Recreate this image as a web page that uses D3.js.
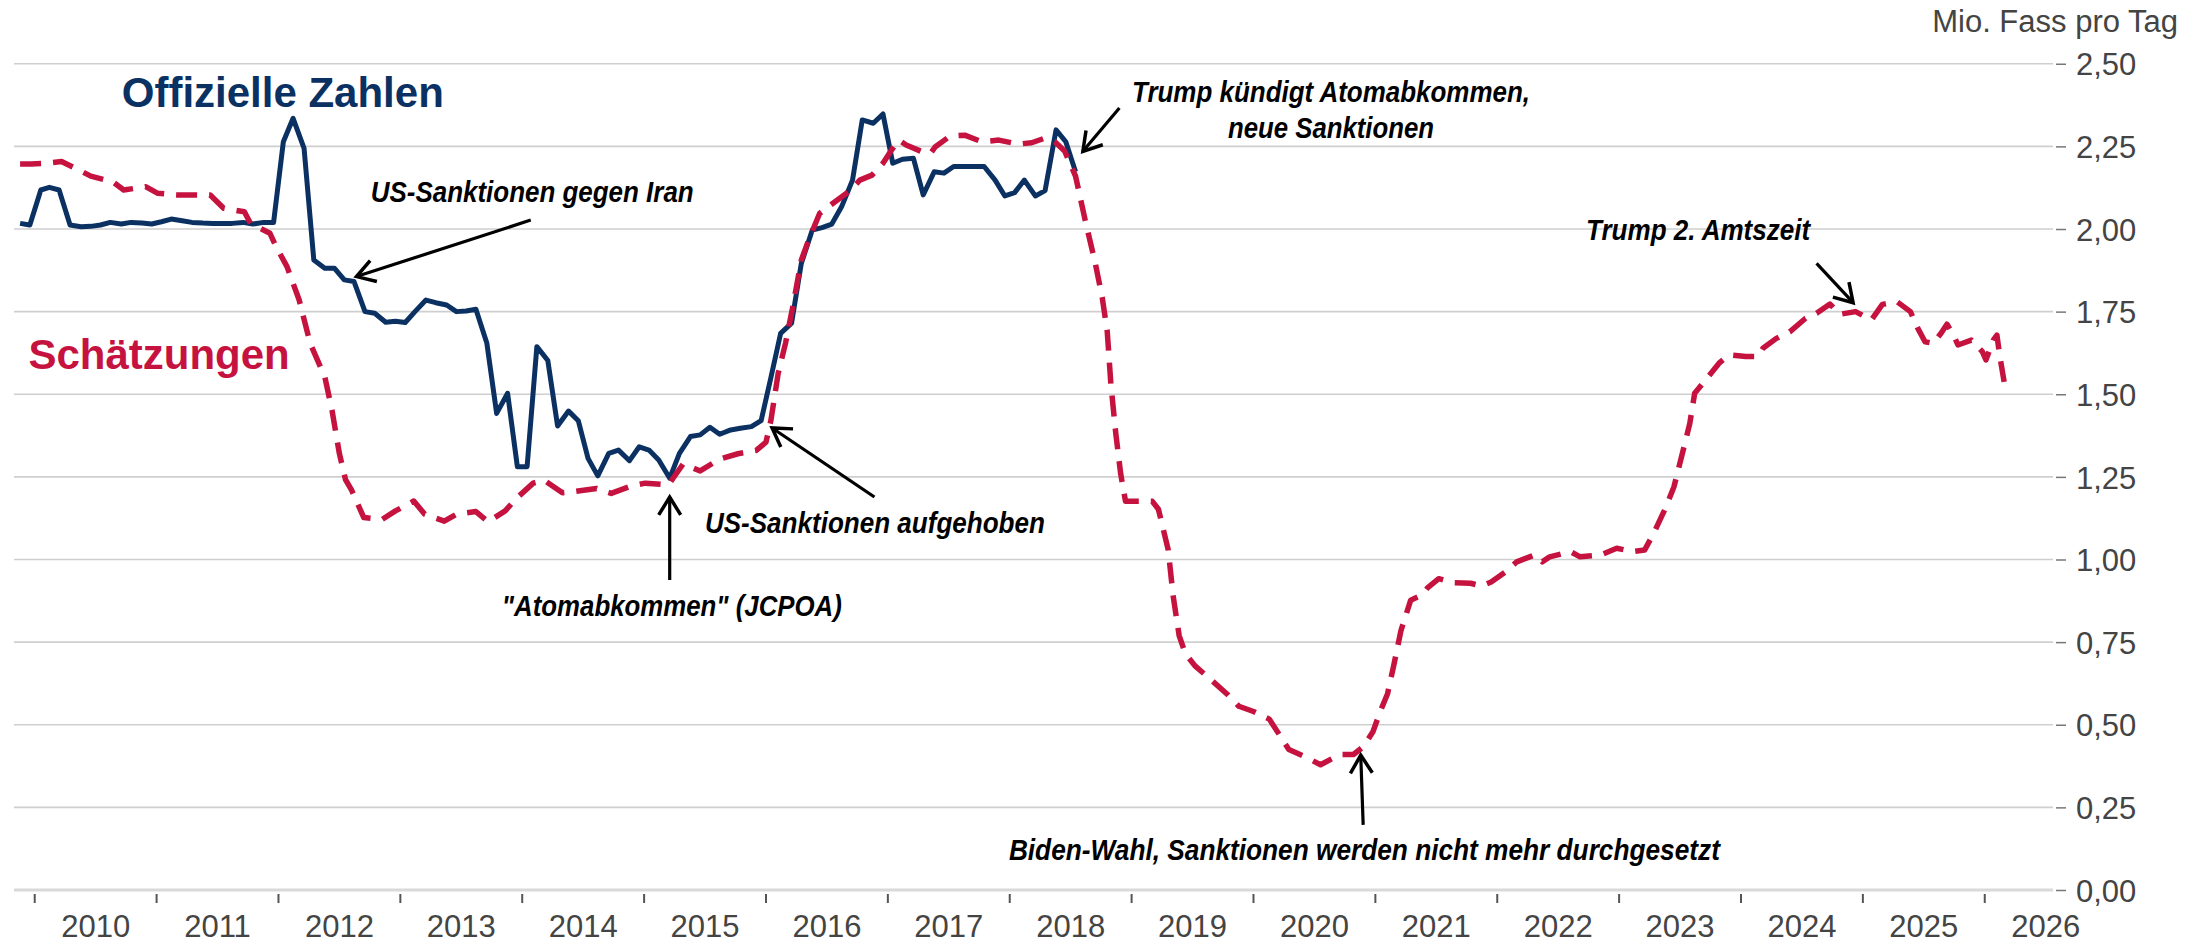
<!DOCTYPE html>
<html>
<head>
<meta charset="utf-8">
<script src="https://cdn.jsdelivr.net/npm/d3@7"></script>
<style>
  html, body { margin: 0; padding: 0; background: #ffffff; }
  svg { display: block; }
</style>
</head>
<body>
<svg id="chart" width="2209" height="943"></svg>
<script>
// ---------------- DATA ----------------
// Official figures (decimal year, Mio. barrels per day)
const officialYears = [2009.88, 2009.96, 2010.05, 2010.12, 2010.20, 2010.29, 2010.38, 2010.46, 2010.54, 2010.62,
  2010.71, 2010.79, 2010.88, 2010.96, 2011.04, 2011.12, 2011.21, 2011.29, 2011.38, 2011.46,
  2011.54, 2011.62, 2011.71, 2011.79, 2011.88, 2011.96, 2012.04, 2012.12, 2012.21, 2012.29,
  2012.38, 2012.46, 2012.54, 2012.62, 2012.71, 2012.79, 2012.88, 2012.96, 2013.04, 2013.12,
  2013.21, 2013.29, 2013.38, 2013.46, 2013.54, 2013.62, 2013.71, 2013.79, 2013.88, 2013.96,
  2014.04, 2014.12, 2014.21, 2014.29, 2014.38, 2014.46, 2014.54, 2014.62, 2014.71, 2014.79,
  2014.88, 2014.96, 2015.04, 2015.12, 2015.21, 2015.29, 2015.38, 2015.46, 2015.54, 2015.62,
  2015.71, 2015.79, 2015.88, 2015.96, 2016.04, 2016.12, 2016.21, 2016.29, 2016.38, 2016.46,
  2016.54, 2016.62, 2016.71, 2016.79, 2016.88, 2016.96, 2017.04, 2017.12, 2017.21, 2017.29,
  2017.38, 2017.46, 2017.54, 2017.62, 2017.71, 2017.79, 2017.88, 2017.96, 2018.04, 2018.12,
  2018.21, 2018.29, 2018.38, 2018.46, 2018.54];
const officialValues = [2.017, 2.012, 2.118, 2.126, 2.118, 2.012, 2.007, 2.008, 2.012, 2.020,
  2.015, 2.020, 2.018, 2.015, 2.022, 2.030, 2.025, 2.020, 2.018, 2.017,
  2.017, 2.017, 2.020, 2.015, 2.020, 2.020, 2.264, 2.335, 2.244, 1.906,
  1.881, 1.881, 1.846, 1.841, 1.750, 1.745, 1.718, 1.721, 1.717, 1.750,
  1.785, 1.777, 1.770, 1.750, 1.752, 1.757, 1.654, 1.442, 1.503, 1.281,
  1.281, 1.644, 1.602, 1.404, 1.449, 1.420, 1.306, 1.253, 1.321, 1.331,
  1.299, 1.341, 1.331, 1.301, 1.246, 1.321, 1.372, 1.377, 1.400, 1.379,
  1.392, 1.397, 1.402, 1.420, 1.550, 1.684, 1.715, 1.896, 1.997, 2.004,
  2.015, 2.067, 2.148, 2.330, 2.320, 2.348, 2.199, 2.211, 2.214, 2.103,
  2.173, 2.169, 2.189, 2.189, 2.189, 2.189, 2.148, 2.100, 2.110, 2.148,
  2.100, 2.116, 2.300, 2.264, 2.173];

// Estimates (decimal year, Mio. barrels per day)
const estimateYears = [2009.88, 2009.97, 2010.10, 2010.22, 2010.36, 2010.46, 2010.64, 2010.73, 2010.91, 2011.01,
  2011.17, 2011.44, 2011.55, 2011.72, 2011.77, 2011.93, 2011.98, 2012.07, 2012.17, 2012.26,
  2012.38, 2012.44, 2012.50, 2012.55, 2012.60, 2012.70, 2012.85, 2012.96, 2013.11, 2013.20,
  2013.36, 2013.46, 2013.62, 2013.72, 2013.86, 2013.95, 2014.09, 2014.18, 2014.33, 2014.42,
  2014.61, 2014.73, 2014.90, 2015.01, 2015.20, 2015.32, 2015.46, 2015.62, 2015.77, 2015.92,
  2016.00, 2016.04, 2016.10, 2016.16, 2016.22, 2016.29, 2016.35, 2016.44, 2016.55, 2016.68,
  2016.77, 2016.87, 2016.96, 2017.03, 2017.09, 2017.15, 2017.28, 2017.35, 2017.39, 2017.51,
  2017.63, 2017.77, 2017.91, 2018.07, 2018.18, 2018.28, 2018.37, 2018.45, 2018.54, 2018.62,
  2018.70, 2018.76, 2018.80, 2018.83, 2018.87, 2018.91, 2018.95, 2019.17, 2019.22, 2019.30,
  2019.34, 2019.39, 2019.44, 2019.52, 2019.64, 2019.78, 2019.88, 2020.00, 2020.13, 2020.21,
  2020.29, 2020.43, 2020.55, 2020.71, 2020.82, 2020.90, 2020.98, 2021.04, 2021.10, 2021.15,
  2021.21, 2021.25, 2021.29, 2021.38, 2021.43, 2021.52, 2021.63, 2021.78, 2021.87, 2021.95,
  2022.07, 2022.16, 2022.31, 2022.37, 2022.43, 2022.60, 2022.68, 2022.85, 2022.98, 2023.11,
  2023.21, 2023.29, 2023.38, 2023.45, 2023.54, 2023.58, 2023.62, 2023.71, 2023.82, 2023.90,
  2024.04, 2024.14, 2024.18, 2024.29, 2024.40, 2024.53, 2024.62, 2024.73, 2024.81, 2024.94,
  2025.07, 2025.16, 2025.28, 2025.39, 2025.45, 2025.51, 2025.58, 2025.64, 2025.69, 2025.75,
  2025.78, 2025.89, 2025.98, 2026.01, 2026.07, 2026.10, 2026.12, 2026.17];
const estimateValues = [2.197, 2.197, 2.199, 2.204, 2.179, 2.160, 2.143, 2.118, 2.128, 2.108,
  2.103, 2.103, 2.063, 2.052, 2.017, 1.987, 1.947, 1.886, 1.785, 1.654,
  1.553, 1.450, 1.320, 1.242, 1.210, 1.127, 1.121, 1.147, 1.177, 1.137,
  1.116, 1.137, 1.145, 1.114, 1.147, 1.184, 1.231, 1.240, 1.202, 1.205,
  1.215, 1.200, 1.223, 1.231, 1.226, 1.289, 1.268, 1.304, 1.320, 1.330,
  1.355, 1.420, 1.563, 1.654, 1.765, 1.906, 1.967, 2.047, 2.078, 2.113,
  2.148, 2.163, 2.199, 2.239, 2.269, 2.254, 2.234, 2.229, 2.249, 2.281,
  2.284, 2.264, 2.269, 2.257, 2.261, 2.274, 2.264, 2.236, 2.160, 2.025,
  1.900, 1.790, 1.690, 1.530, 1.382, 1.260, 1.176, 1.176, 1.152, 1.030,
  0.892, 0.770, 0.716, 0.678, 0.640, 0.594, 0.556, 0.540, 0.517, 0.471,
  0.425, 0.402, 0.379, 0.410, 0.410, 0.433, 0.479, 0.540, 0.594, 0.678,
  0.785, 0.831, 0.877, 0.892, 0.915, 0.942, 0.930, 0.928, 0.920, 0.932,
  0.963, 0.993, 1.014, 0.993, 1.008, 1.024, 1.008, 1.014, 1.034, 1.024,
  1.029, 1.084, 1.155, 1.220, 1.352, 1.412, 1.503, 1.543, 1.594, 1.619,
  1.614, 1.614, 1.639, 1.669, 1.689, 1.730, 1.745, 1.773, 1.742, 1.750,
  1.725, 1.772, 1.780, 1.750, 1.700, 1.659, 1.654, 1.684, 1.712, 1.674,
  1.649, 1.664, 1.629, 1.604, 1.664, 1.679, 1.624, 1.513];

// Axis tick values / labels
const yearTicks = [2010, 2011, 2012, 2013, 2014, 2015, 2016, 2017, 2018, 2019, 2020, 2021, 2022, 2023, 2024, 2025, 2026];
const yearLabels = ["2010", "2011", "2012", "2013", "2014", "2015", "2016", "2017", "2018", "2019", "2020", "2021", "2022", "2023", "2024", "2025", "2026"];
const valueTicks = [0, 0.25, 0.5, 0.75, 1.0, 1.25, 1.5, 1.75, 2.0, 2.25, 2.5];
const unitLabel = "Mio. Fass pro Tag";
const seriesNames = ["Offizielle Zahlen", "Schätzungen"];

// Annotations: text lines and arrows (in data coordinates: decimal year / value)
const annotationTexts = [
  { lines: ["US-Sanktionen gegen Iran"], x: 2012.757, y: 2.081, anchor: "start", widths: [323] },
  { lines: ["Trump kündigt Atomabkommen,", "neue Sanktionen"], x: 2020.636, y: 2.384, anchor: "middle", widths: [398, 206] },
  { lines: ["US-Sanktionen aufgehoben"], x: 2015.499, y: 1.080, anchor: "start", widths: [340] },
  { lines: ["\"Atomabkommen\" (JCPOA)"], x: 2013.833, y: 0.829, anchor: "start", widths: [340] },
  { lines: ["Trump 2. Amtszeit"], x: 2022.729, y: 1.967, anchor: "start", widths: [224] },
  { lines: ["Biden-Wahl, Sanktionen werden nicht mehr durchgesetzt"], x: 2017.993, y: 0.091, anchor: "start", widths: [711] }
];
const annotationArrows = [
  { from: [2014.07, 2.027], to: [2012.64, 1.856] },
  { from: [2018.90, 2.366], to: [2018.60, 2.235] },
  { from: [2016.89, 1.189], to: [2016.05, 1.398] },
  { from: [2015.21, 0.938], to: [2015.21, 1.189] },
  { from: [2024.62, 1.896], to: [2024.92, 1.777] },
  { from: [2020.90, 0.197], to: [2020.88, 0.408] }
];

// ---------------- CHART ----------------
const BLUE = "#0b3163";
const RED = "#c6123f";
const AXIS_TEXT = "#444444";

const svg = d3.select("#chart");
svg.append("rect").attr("width", 2209).attr("height", 943).attr("fill", "#ffffff");

const x = d3.scaleLinear().domain([2009.83, 2026.56]).range([14, 2053]);
const y = d3.scaleLinear().domain([0, 2.5]).range([890, 63.75]);

const locale = d3.formatLocale({ decimal: ",", thousands: ".", grouping: [3], currency: ["", " €"] });
const fmt = locale.format(".2f");

// Gridlines
const grid = svg.append("g");
grid.selectAll("line")
  .data(valueTicks)
  .join("line")
  .attr("x1", x.range()[0])
  .attr("x2", x.range()[1])
  .attr("y1", d => y(d))
  .attr("y2", d => y(d))
  .attr("stroke", d => d === 0 ? "#d9d9d9" : "#cfcfcf")
  .attr("stroke-width", d => d === 0 ? 3 : 1.6);

// Right y axis
const yAxis = d3.axisRight(y)
  .tickValues(valueTicks)
  .tickFormat(fmt)
  .tickSize(10)
  .tickPadding(10);
const yAxisG = svg.append("g")
  .attr("transform", `translate(${x.range()[1] + 3},0)`)
  .call(yAxis);
yAxisG.select(".domain").remove();
yAxisG.selectAll(".tick line").attr("stroke", "#777").attr("stroke-width", 1.5);
yAxisG.selectAll(".tick text")
  .attr("fill", AXIS_TEXT)
  .attr("font-family", "'Liberation Sans', Arial, sans-serif")
  .attr("font-size", 31)
  .attr("dy", "0.36em");

// Bottom x axis: tick marks at year boundaries, labels centered in each year
const xTickG = svg.append("g");
xTickG.selectAll("line")
  .data(yearTicks)
  .join("line")
  .attr("x1", d => x(d))
  .attr("x2", d => x(d))
  .attr("y1", 894)
  .attr("y2", 903)
  .attr("stroke", "#555")
  .attr("stroke-width", 2);
xTickG.selectAll("text")
  .data(yearTicks)
  .join("text")
  .attr("x", d => x(d + 0.5))
  .attr("y", 937)
  .attr("text-anchor", "middle")
  .attr("fill", AXIS_TEXT)
  .attr("font-family", "'Liberation Sans', Arial, sans-serif")
  .attr("font-size", 31)
  .text((d, i) => yearLabels[i]);

// Unit label
svg.append("text")
  .attr("x", 2178)
  .attr("y", 32)
  .attr("text-anchor", "end")
  .attr("fill", AXIS_TEXT)
  .attr("font-family", "'Liberation Sans', Arial, sans-serif")
  .attr("font-size", 31)
  .text(unitLabel);

// Lines
const line = d3.line().x(d => x(d[0])).y(d => y(d[1]));
const officialData = officialYears.map((t, i) => [t, officialValues[i]]);
const estimateData = estimateYears.map((t, i) => [t, estimateValues[i]]);

svg.append("path")
  .datum(officialData)
  .attr("d", line)
  .attr("fill", "none")
  .attr("stroke", BLUE)
  .attr("stroke-width", 5)
  .attr("stroke-linejoin", "round");

svg.append("path")
  .datum(estimateData)
  .attr("d", line)
  .attr("fill", "none")
  .attr("stroke", RED)
  .attr("stroke-width", 5.5)
  .attr("stroke-dasharray", "21,12")
  .attr("stroke-linejoin", "round");

// Series labels
svg.append("text")
  .attr("x", x(2010.714)).attr("y", y(2.369))
  .attr("fill", BLUE)
  .attr("font-family", "'Liberation Sans', Arial, sans-serif")
  .attr("font-weight", "bold")
  .attr("font-size", 42)
  .text(seriesNames[0]);
svg.append("text")
  .attr("x", x(2009.948)).attr("y", y(1.576))
  .attr("fill", RED)
  .attr("font-family", "'Liberation Sans', Arial, sans-serif")
  .attr("font-weight", "bold")
  .attr("font-size", 42)
  .text(seriesNames[1]);

// Annotation texts
const annG = svg.append("g");
annotationTexts.forEach(a => {
  a.lines.forEach((ln, i) => {
    annG.append("text")
      .attr("x", x(a.x))
      .attr("y", y(a.y) + i * 35.5)
      .attr("text-anchor", a.anchor)
      .attr("fill", "#000")
      .attr("font-family", "'Liberation Sans Narrow', 'Liberation Sans', Arial, sans-serif")
      .attr("font-weight", "bold")
      .attr("font-style", "italic")
      .attr("font-size", 29)
      .attr("textLength", a.widths[i])
      .attr("lengthAdjust", "spacingAndGlyphs")
      .text(ln);
  });
});

// Arrows
annotationArrows.forEach(a => {
  const x1 = x(a.from[0]), y1 = y(a.from[1]);
  const x2 = x(a.to[0]), y2 = y(a.to[1]);
  annG.append("line")
    .attr("x1", x1).attr("y1", y1).attr("x2", x2).attr("y2", y2)
    .attr("stroke", "#000").attr("stroke-width", 3.2);
  const ang = Math.atan2(y1 - y2, x1 - x2);
  const len = 21, spread = 0.55;
  const p1 = [x2 + len * Math.cos(ang + spread), y2 + len * Math.sin(ang + spread)];
  const p2 = [x2 + len * Math.cos(ang - spread), y2 + len * Math.sin(ang - spread)];
  annG.append("path")
    .attr("d", `M${p1[0]},${p1[1]}L${x2},${y2}L${p2[0]},${p2[1]}`)
    .attr("fill", "none")
    .attr("stroke", "#000")
    .attr("stroke-width", 3.5)
    .attr("stroke-linejoin", "miter");
});
</script>
</body>
</html>
